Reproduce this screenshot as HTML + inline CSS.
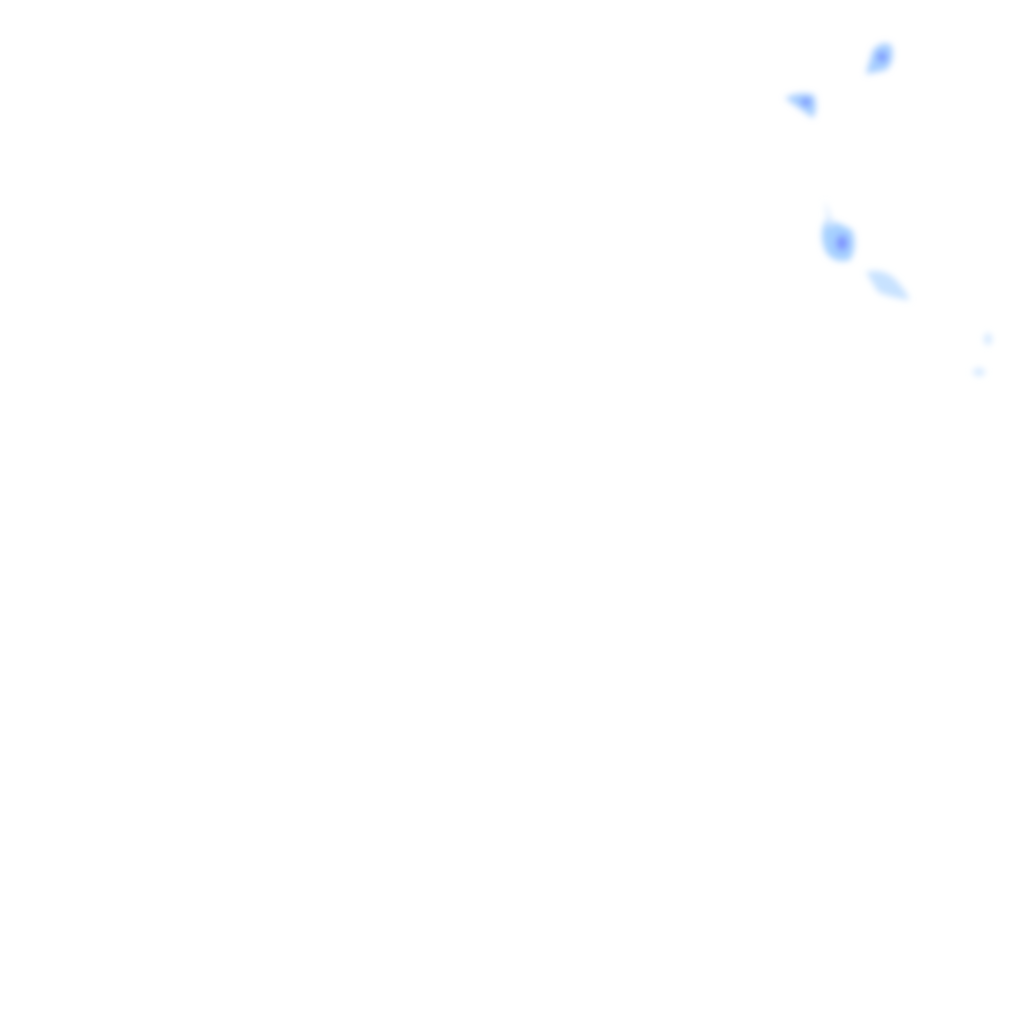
<!DOCTYPE html>
<html><head><style>html,body{margin:0;padding:0;background:#fff;width:1024px;height:1024px;overflow:hidden}</style></head>
<body>
<svg width="1024" height="1024" xmlns="http://www.w3.org/2000/svg">
<defs>
<filter id="b" x="-50%" y="-50%" width="200%" height="200%"><feGaussianBlur stdDeviation="3.5"/></filter>
</defs>
<rect width="1024" height="1024" fill="#fff"/>
<g filter="url(#b)">
<path d="M866 74 L873 50 Q882 40 891 45 Q896 60 886 70 Z" fill="#a6ceff"/>
<ellipse cx="882" cy="57" rx="5" ry="5" fill="#7a95ff"/>
<path d="M785 98 Q800 91 814 95 Q818 108 813 118 Z" fill="#a6ceff"/>
<ellipse cx="806" cy="102" rx="5" ry="4" fill="#7a95ff"/>
<path d="M826 220 Q838 222 852 230 Q858 246 850 260 Q834 264 826 252 Q818 235 826 220 Z" fill="#a6d0ff"/>
<ellipse cx="842" cy="243" rx="6" ry="8" fill="#8096ff"/>
<path d="M825 200 L834 226 L828 228 Z" fill="#d4e8ff"/>
<path d="M866 272 Q882 268 894 278 Q904 288 910 300 Q892 298 878 292 Z" fill="#c8e2ff"/>
<ellipse cx="988" cy="339" rx="4" ry="6" fill="#d4e8ff"/>
<ellipse cx="979" cy="372" rx="6" ry="4" fill="#d4e8ff"/>
</g>
</svg>
</body></html>
